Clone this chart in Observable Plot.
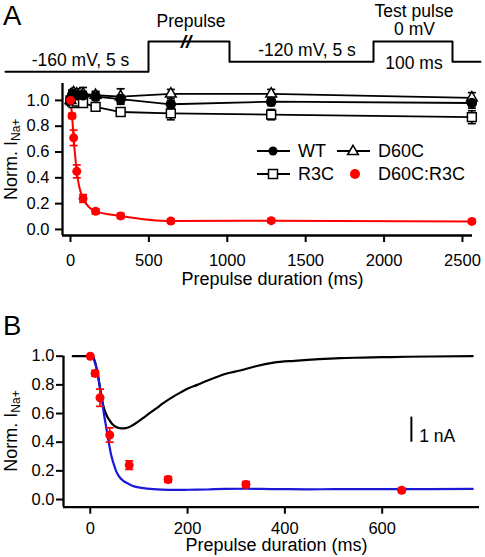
<!DOCTYPE html>
<html><head><meta charset="utf-8">
<script src="https://cdn.jsdelivr.net/npm/d3@7"></script>
<script src="https://cdn.jsdelivr.net/npm/@observablehq/plot@0.6"></script>
<style>
body{margin:0;background:#fff;}
#root{position:relative;width:485px;height:557px;overflow:hidden;font-family:"Liberation Sans",Arial,sans-serif;}
#root > svg{position:absolute;left:0;}
</style></head><body><div id="root"></div>
<script>
// ---------- DATA ----------
// Protocol schematic (schematic time units, schematic level units)
const protoEdges = [5, 148, 229, 373, 452, 480];
const protoLevels = [0, 3, 1, 3, 1, 1];
const protoLabels = ["-160 mV, 5 s", "Prepulse", "-120 mV, 5 s", "Test pulse", "0 mV", "100 ms"];

// Panel A
const durationsA = [0, 10, 20, 40, 80, 160, 320, 640, 1280, 2560];
const wtMean   = [1.00, 1.04, 1.05, 1.04, 1.04, 1.03, 1.01, 0.97, 0.99, 0.98];
const wtErr    = [0, 0.03, 0.03, 0.03, 0.03, 0.03, 0.03, 0.03, 0.03, 0.04];
const d60cMean = [1.00, 1.05, 1.06, 1.05, 1.05, 1.04, 1.03, 1.05, 1.05, 1.02];
const d60cErr  = [0, 0.03, 0.03, 0.04, 0.05, 0.03, 0.06, 0.035, 0.035, 0.04];
const r3cMean  = [1.00, 0.99, 0.98, 0.99, 0.98, 0.95, 0.91, 0.90, 0.89, 0.87];
const r3cErr   = [0, 0.02, 0.02, 0.02, 0.02, 0.02, 0.03, 0.05, 0.04, 0.05];
const dualMean = [1.00, 0.88, 0.71, 0.45, 0.24, 0.14, 0.105, 0.065, 0.068, 0.062];
const dualErr  = [0, 0.02, 0.06, 0.05, 0.03, 0.02, 0.02, 0.015, 0.015, 0.015];
const seriesNames = ["WT", "D60C", "R3C", "D60C:R3C"];
const xTicksA = [0, 500, 1000, 1500, 2000, 2500];
const yTicks = [0, 0.2, 0.4, 0.6, 0.8, 1.0];

// Panel B
const durationsB = [0, 10, 20, 40, 80, 160, 320, 640];
const traceBlackT = [-36, 0, 5, 9, 14, 20, 24, 28, 34, 40, 45, 52, 58, 68, 78, 86, 96, 106, 120, 134, 150, 168, 185, 202, 220, 236, 256, 277, 308, 340, 377, 420, 470, 514, 560, 600, 650, 700, 786];
const traceBlackV = [1.0, 1.0, 1.0, 0.97, 0.9, 0.78, 0.7, 0.64, 0.585, 0.55, 0.527, 0.508, 0.5, 0.496, 0.502, 0.516, 0.538, 0.562, 0.598, 0.632, 0.672, 0.713, 0.746, 0.776, 0.80, 0.824, 0.85, 0.876, 0.9, 0.93, 0.955, 0.968, 0.98, 0.987, 0.99, 0.993, 0.996, 0.998, 1.0];
const traceBlueT = [3, 7, 10, 14, 20, 24, 28, 33, 38, 43, 48, 53, 58, 68, 79, 92, 106, 130, 161, 200, 240, 277, 320, 350, 400, 450, 500, 550, 600, 650, 700, 786];
const traceBlueV = [1.0, 0.98, 0.95, 0.9, 0.78, 0.7, 0.6, 0.5, 0.4, 0.31, 0.25, 0.2, 0.167, 0.13, 0.109, 0.09, 0.081, 0.072, 0.067, 0.068, 0.07, 0.074, 0.075, 0.074, 0.072, 0.071, 0.072, 0.072, 0.073, 0.072, 0.073, 0.074];
const xTicksB = [0, 200, 400, 600];
const scaleBar = {x: 660, y1: 0.40, y2: 0.575, tx: 676, ty: 0.44, label: "1 nA"};

// ---------- HELPERS ----------
const FONT = '"Liberation Sans", Arial, sans-serif';
const RED = "#ff0000", BLUE = "#1a1ad6";
const capSymbol = {draw(ctx, size) {const w = Math.sqrt(size / Math.PI); ctx.moveTo(-w, 0); ctx.lineTo(w, 0);}};
const root = document.getElementById("root");
function place(svg, top) { svg.style.top = top + "px"; root.appendChild(svg); }
function errMarks(rows, color) {
  const e = rows.filter(d => d.e > 0);
  return [
    Plot.ruleX(e, {x: "x", y1: d => d.y - d.e, y2: d => d.y + d.e, stroke: color, strokeWidth: 1.7}),
    Plot.dot(e, {x: "x", y: d => d.y + d.e, symbol: capSymbol, r: 4, fill: "none", stroke: color, strokeWidth: 1.7}),
    Plot.dot(e, {x: "x", y: d => d.y - d.e, symbol: capSymbol, r: 4, fill: "none", stroke: color, strokeWidth: 1.7})
  ];
}
const rowsOf = (key, xs, m, e) => xs.map((x, i) => ({key, x, y: m[i], e: e[i]}));

// ---------- PROTOCOL ----------
const protoPts = protoEdges.map((t, i) => ({t, v: protoLevels[i]}));
const mid = i => (protoEdges[i] + protoEdges[i + 1]) / 2;
const protoText = [
  {t: mid(0), v: protoLevels[0], s: protoLabels[0], dx: 3.5, dy: -6},
  {t: mid(1), v: protoLevels[1], s: protoLabels[1], dx: 2, dy: -15},
  {t: mid(2), v: protoLevels[2], s: protoLabels[2], dx: 5.5, dy: -6},
  {t: mid(3), v: protoLevels[3], s: protoLabels[3], dx: 1, dy: -25},
  {t: mid(3), v: protoLevels[3], s: protoLabels[4], dx: 1.5, dy: -6.5},
  {t: mid(3), v: protoLevels[3], s: protoLabels[5], dx: 1, dy: 27}
];
const proto = Plot.plot({
  width: 485, height: 80, margin: 0,
  style: {fontFamily: FONT, fontSize: "17.5px", background: "transparent", overflow: "visible"},
  x: {domain: [0, 485], range: [0, 485], axis: null},
  y: {domain: [0, 3], range: [71.3, 41], axis: null},
  marks: [
    Plot.line(protoPts, {x: "t", y: "v", curve: "step-after", stroke: "black", strokeWidth: 2}),
    ...protoText.map(d => Plot.text([d], {x: "t", y: "v", text: "s", dx: d.dx, dy: d.dy, lineAnchor: "bottom", fill: "black"})),
    Plot.text([{t: mid(1) - 3, v: protoLevels[1]}], {x: "t", y: "v", text: () => "//", fontStyle: "italic", fontWeight: "bold", fontSize: 19, lineAnchor: "middle", fill: "black", dy: 0})
  ]
});
place(proto, 0);

// ---------- PANEL A ----------
const xDomA = [-51, 2564], yDomA = [-0.047, 1.131];
const rWT = rowsOf("WT", durationsA, wtMean, wtErr);
const rD60 = rowsOf("D60C", durationsA, d60cMean, d60cErr);
const rR3 = rowsOf("R3C", durationsA, r3cMean, r3cErr);
const rDual = rowsOf("D60C:R3C", durationsA, dualMean, dualErr);
const plotA = Plot.plot({
  width: 485, height: 215, marginLeft: 62, marginRight: 13, marginTop: 3, marginBottom: 60,
  style: {fontFamily: FONT, fontSize: "16.5px", background: "transparent", overflow: "visible", color: "black"},
  x: {domain: xDomA},
  y: {domain: yDomA},
  marks: [
    Plot.axisX({ticks: xTicksA, tickSize: 7, tickPadding: 12, tickFormat: d => String(d), strokeWidth: 2, label: null}),
    Plot.axisY({ticks: yTicks, tickSize: 7, tickPadding: 6, tickFormat: d3.format(".1f"), strokeWidth: 2, label: null}),
    Plot.ruleX([xDomA[0]], {stroke: "black", strokeWidth: 2.3}),
    Plot.ruleY([yDomA[0]], {stroke: "black", strokeWidth: 2.3}),
    Plot.line([...rWT, ...rD60, ...rR3], {x: "x", y: "y", z: "key", stroke: "black", strokeWidth: 1.8}),
    Plot.line(rDual, {x: "x", y: "y", stroke: RED, strokeWidth: 2, curve: "monotone-x"}),
    ...errMarks([...rR3, ...rD60, ...rWT], "black"),
    ...errMarks(rDual, RED),
    Plot.dot(rR3, {x: "x", y: "y", symbol: "square", r: 5, fill: "white", stroke: "black", strokeWidth: 1.5}),
    Plot.dot(rD60, {x: "x", y: "y", symbol: "triangle", r: 4, fill: "white", stroke: "black", strokeWidth: 1.5}),
    Plot.dot(rWT, {x: "x", y: "y", symbol: "circle", r: 4.5, fill: "black", stroke: "black"}),
    Plot.dot(rDual, {x: "x", y: "y", symbol: "circle", r: 4.5, fill: RED}),
    Plot.text(["Prepulse duration (ms)"], {frameAnchor: "bottom", lineAnchor: "bottom", text: d => d, dx: 5, dy: 49, fontSize: 18, fill: "black"})
  ]
});
place(plotA, 80);

// ---------- PANEL B ----------
const xDomB = [-55, 800], yDomB = [-0.0536, 1.0];
const rB = rowsOf("D60C:R3C", durationsB, dualMean.slice(0, 8), dualErr.slice(0, 8));
const blk = traceBlackT.map((t, i) => ({t, v: traceBlackV[i]}));
const blu = traceBlueT.map((t, i) => ({t, v: traceBlueV[i]}));
const plotB = Plot.plot({
  width: 485, height: 257, marginLeft: 63, marginRight: 6, marginTop: 55.7, marginBottom: 50.3,
  style: {fontFamily: FONT, fontSize: "16.5px", background: "transparent", overflow: "visible", color: "black"},
  x: {domain: xDomB},
  y: {domain: yDomB},
  marks: [
    Plot.axisX({ticks: xTicksB, tickSize: 7, tickPadding: 8, tickFormat: d => String(d), strokeWidth: 2, label: null}),
    Plot.axisY({ticks: yTicks, tickSize: 7, tickPadding: 2, tickFormat: d3.format(".1f"), strokeWidth: 2, label: null}),
    Plot.ruleX([xDomB[0]], {stroke: "black", strokeWidth: 2.3}),
    Plot.ruleY([yDomB[0]], {stroke: "black", strokeWidth: 2.3}),
    Plot.line(blk, {x: "t", y: "v", stroke: "black", strokeWidth: 2.2, curve: "monotone-x"}),
    Plot.line(blu, {x: "t", y: "v", stroke: BLUE, strokeWidth: 2.2, curve: "monotone-x"}),
    ...errMarks(rB, RED),
    Plot.dot(rB, {x: "x", y: "y", symbol: "circle", r: 4.5, fill: RED}),
    Plot.ruleX([scaleBar], {x: "x", y1: "y1", y2: "y2", stroke: "black", strokeWidth: 2}),
    Plot.text([scaleBar], {x: "tx", y: "ty", text: "label", textAnchor: "start", fontSize: 17.5, fill: "black"}),
    Plot.text(["Prepulse duration (ms)"], {frameAnchor: "bottom", lineAnchor: "bottom", text: d => d, dx: 5, dy: 44, fontSize: 18, fill: "black"})
  ]
});
place(plotB, 300);

// ---------- OVERLAY: panel letters, y labels, legend ----------
const ov = d3.create("svg").attr("width", 485).attr("height", 557)
  .style("top", "0px").style("pointer-events", "none")
  .style("font-family", FONT).style("overflow", "visible");
ov.append("text").attr("x", 3).attr("y", 25).attr("font-size", 27.5).text("A");
ov.append("text").attr("x", 3).attr("y", 335).attr("font-size", 27.5).text("B");
[[16.5, 200], [16.5, 471.7]].forEach(([x, y]) => {
  const t = ov.append("text").attr("transform", `translate(${x},${y}) rotate(-90)`).attr("font-size", 18);
  t.append("tspan").text("Norm. I");
  t.append("tspan").attr("font-size", 12).attr("dy", 3.5).text("Na+");
});
const lg = ov.append("g").attr("font-size", 18);
const leg = [
  {name: seriesNames[0], x: 257, y: 151, sym: "circle", line: true},
  {name: seriesNames[1], x: 337, y: 151, sym: "triangle", line: true},
  {name: seriesNames[2], x: 257, y: 174, sym: "square", line: true},
  {name: seriesNames[3], x: 337, y: 174, sym: "red", line: false}
];
leg.forEach(d => {
  const cx = d.x + 16;
  if (d.line) lg.append("line").attr("x1", d.x).attr("x2", d.x + 33).attr("y1", d.y).attr("y2", d.y).attr("stroke", "black").attr("stroke-width", 1.8);
  if (d.sym === "circle") lg.append("circle").attr("cx", cx).attr("cy", d.y).attr("r", 4.5).attr("fill", "black");
  if (d.sym === "square") lg.append("rect").attr("x", cx - 4.5).attr("y", d.y - 4.5).attr("width", 9).attr("height", 9).attr("fill", "white").attr("stroke", "black").attr("stroke-width", 1.5);
  if (d.sym === "triangle") lg.append("path").attr("d", d3.symbol(d3.symbolTriangle, 16 * Math.PI)()).attr("transform", `translate(${cx},${d.y + 0.5})`).attr("fill", "white").attr("stroke", "black").attr("stroke-width", 1.5);
  if (d.sym === "red") lg.append("circle").attr("cx", cx + 2).attr("cy", d.y).attr("r", 5).attr("fill", RED);
  lg.append("text").attr("x", d.x + 41).attr("y", d.y).attr("dy", "0.35em").text(d.name);
});
root.appendChild(ov.node());
</script></body></html>
